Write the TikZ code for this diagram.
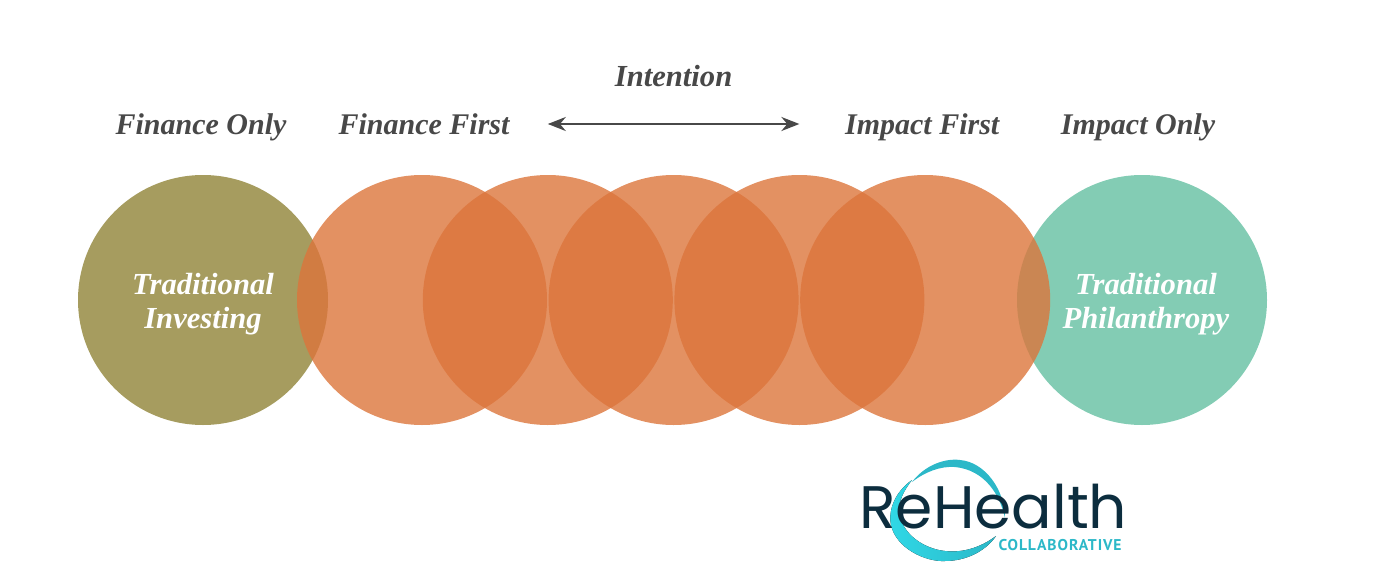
\documentclass[tikz,border=0pt]{standalone}
\usepackage{fontspec}
\usepackage{tikz}
\usetikzlibrary{arrows.meta,positioning}
\setmainfont{Liberation Serif}
\newfontfamily\logofont{Poppins}
\newfontfamily\subfont[LetterSpace=6]{PT Sans}
\definecolor{oliveco}{RGB}{166,156,95}
\definecolor{orangeco}{RGB}{220,117,59}
\definecolor{tealco}{RGB}{131,204,180}
\definecolor{labelco}{RGB}{72,72,72}
\definecolor{logodark}{RGB}{12,45,62}
\definecolor{logoteal}{RGB}{44,184,200}
\definecolor{logocyan}{RGB}{48,216,230}

\begin{document}
\begin{tikzpicture}[x=0.5pt,y=-0.5pt,
   node distance=6mm and 16mm,
   disc/.style={circle,minimum size=125pt,inner sep=0pt},
   mix/.style={disc,fill=orangeco,fill opacity=0.8},
   inside/.style={align=center,inner sep=0pt,text=white,yshift=-2pt,
                  font=\fontsize{15.3}{17}\selectfont\bfseries\itshape},
   tag/.style={font=\fontsize{15}{17}\selectfont\bfseries\itshape,text=labelco,
               inner sep=0pt,text height=10pt,text depth=3pt},
   op/.style={<->,>={Stealth[length=9pt,width=7pt]},line width=1.2pt,labelco}]
  \useasboundingbox (0,0) rectangle (1373,584);
  \node[disc,fill=oliveco] (trad) at (203,300) {};
  \node[disc,fill=tealco] (phil) at (1142,300) {};
  \node[mix] (mixa) at (422,300) {};
  \node[mix,right=-62.5pt of mixa] (mixb) {};
  \node[mix,right=-62.5pt of mixb] (mixc) {};
  \node[mix,right=-62.5pt of mixc] (mixd) {};
  \node[mix,right=-62.5pt of mixd] (mixe) {};
  \node[inside] (tradtext) at (trad) {Traditional\\Investing};
  \node[inside,xshift=2pt] (philtext) at (phil) {Traditional\\Philanthropy};

  \node[tag,above=17pt of trad,xshift=-1pt] (fonly) {Finance Only};
  \node[tag,above=17pt of mixa,xshift=1pt] (ffirst) {Finance First};
  \node[tag,above=17pt of mixe,xshift=-1.5pt] (ifirst) {Impact First};
  \node[tag,above=17pt of phil,xshift=-2pt] (ionly) {Impact Only};
  \node[tag,above=41pt of mixc,font=\fontsize{15.3}{17}\selectfont\bfseries\itshape] (intent) {Intention};

  \coordinate[above=88pt of mixb.center] (arrowl);
  \coordinate[above=88pt of mixd.center] (arrowr);
  \draw[op] (arrowl) -- (arrowr);

  % logo swooshes
  \fill[logoteal] (912,482) .. controls (925,465) and (945,458) .. (960,460)
     .. controls (985,462) and (1005,490) .. (1005,518)
     .. controls (1000,495) and (985,470) .. (955,467)
     .. controls (940,466) and (925,472) .. cycle;
  \fill[left color=logocyan,right color=logoteal] (912,480) .. controls (895,492) and (888,510) .. (891,525)
     .. controls (896,548) and (925,562) .. (945,561)
     .. controls (965,561) and (985,552) .. (996,536)
     .. controls (980,548) and (962,553) .. (945,551)
     .. controls (925,549) and (902,535) .. (899,512)
     .. controls (898,502) and (904,490) .. (912,480) -- cycle;
  \node[anchor=base west,inner sep=0pt,text=logodark,text depth=0pt,
        font=\fontsize{30}{30}\logofont] (rehealth) at (859,528) {ReHealth};
  \node[anchor=base east,inner sep=0pt,text=logoteal,text height=5.5pt,
        font=\fontsize{7.8}{8}\subfont\bfseries] (collab) at (1122,550) {COLLABORATIVE};
\end{tikzpicture}
\end{document}
